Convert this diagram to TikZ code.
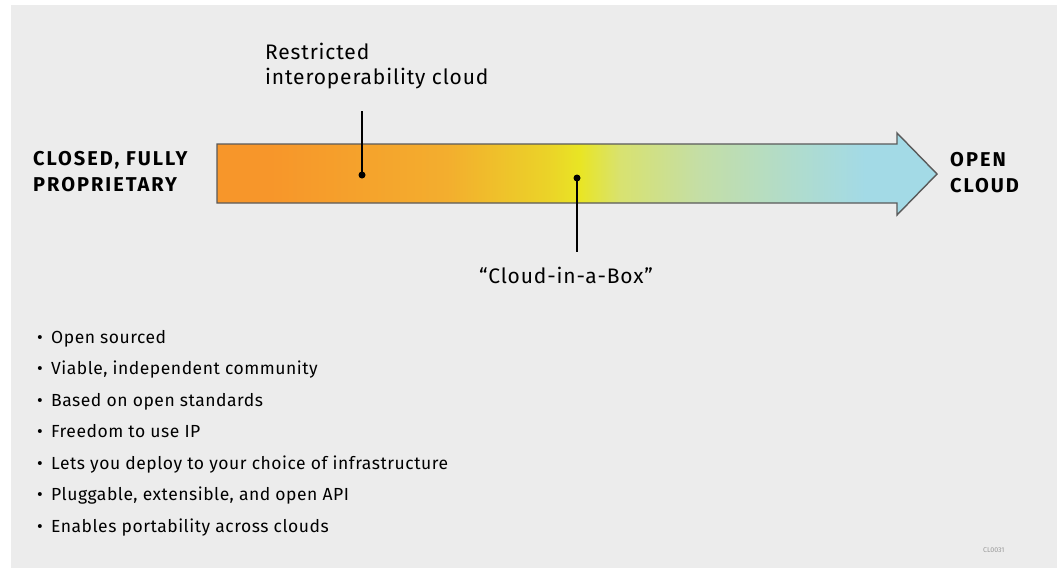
\documentclass[tikz,border=0pt]{standalone}
\usepackage{fontspec}
\setmainfont{Fira Sans}
\usetikzlibrary{positioning}
\definecolor{bg}{HTML}{ECECEC}
\definecolor{cOrange}{HTML}{F7962A}
\definecolor{cOrange2}{HTML}{F3AE2E}
\definecolor{cYel1}{HTML}{EBD328}
\definecolor{cYel}{HTML}{E9E524}
\definecolor{cGreen}{HTML}{D8E270}
\definecolor{cGreen2}{HTML}{C4DEA6}
\definecolor{cBlue1}{HTML}{B0DCCC}
\definecolor{cBlue}{HTML}{A3DAE6}
\definecolor{outline}{HTML}{5A5A5A}
\definecolor{tagc}{HTML}{9A9A9A}
\pgfdeclarehorizontalshading{arrowshade}{100bp}{%
  color(0bp)=(cOrange); color(28.7bp)=(cOrange); color(41bp)=(cOrange2);
  color(48bp)=(cYel1); color(50.2bp)=(cYel); color(53bp)=(cGreen);
  color(58.5bp)=(cGreen2); color(65bp)=(cBlue1); color(70bp)=(cBlue); color(100bp)=(cBlue)}
\tikzset{
  lbl/.style={font=\fontsize{21}{25}\selectfont\addfontfeatures{LetterSpace=4}, text=black, inner sep=0pt, align=left},
  endlbl/.style={font=\fontsize{20}{26}\selectfont\bfseries\addfontfeatures{LetterSpace=10}, text=black, inner sep=0pt, align=left},
  item/.style={font=\fontsize{17.5}{21}\selectfont\addfontfeatures{LetterSpace=3}, text=black, inner sep=0pt, anchor=base west},
  dotc/.style={circle, fill=black, inner sep=0pt, minimum size=7pt},
  leader/.style={draw=black, line width=1.6pt},
  tag/.style={font=\fontsize{7}{8}\selectfont, text=tagc, inner sep=0pt, anchor=base west}
}
\newcommand{\itembul}{\makebox[14pt][l]{•}}
\begin{document}
\begin{tikzpicture}[x=1pt,y=-1pt]
\useasboundingbox (0,0) rectangle (1060,571);
\fill[white] (0,0) rectangle (1060,571);
\fill[bg] (11,5) rectangle (1057,568);
% arrow
\path[shading=arrowshade, draw=outline, line width=1.4pt, line join=miter]
  (217,144) -- (897,144) -- (897,133) -- (937,174) -- (897,215) -- (897,203) -- (217,203) -- cycle;
\node[endlbl, anchor=base west] (closed) at (33,191) {CLOSED, FULLY\\PROPRIETARY};
\node[endlbl, anchor=base west] (open) at (950,192) {OPEN\\CLOUD};
% restricted
\node[lbl, anchor=base west] (restr) at (265,84) {Restricted\\interoperability cloud};
\node[dotc] (d1) at (362,175) {};
\coordinate (t1) at (362,111);
\draw[leader] (d1.center) -- (t1);
% cloud in a box
\node[dotc] (d2) at (577,178) {};
\coordinate (t2) at (577,252);
\draw[leader] (d2.center) -- (t2);
\node[lbl, anchor=base] (box) at (566,283) {“Cloud-in-a-Box”};
% bullets
\node[item] (b1) at (37,343) {\itembul{}Open sourced};
\node[item] (b2) at (37,374.5) {\itembul{}Viable, independent community};
\node[item] (b3) at (37,406) {\itembul{}Based on open standards};
\node[item] (b4) at (37,437.5) {\itembul{}Freedom to use IP};
\node[item] (b5) at (37,469) {\itembul{}Lets you deploy to your choice of infrastructure};
\node[item] (b6) at (37,500.5) {\itembul{}Pluggable, extensible, and open API};
\node[item] (b7) at (37,532) {\itembul{}Enables portability across clouds};
\node[tag] (tagn) at (983,552) {CL0031};
\end{tikzpicture}
\end{document}
